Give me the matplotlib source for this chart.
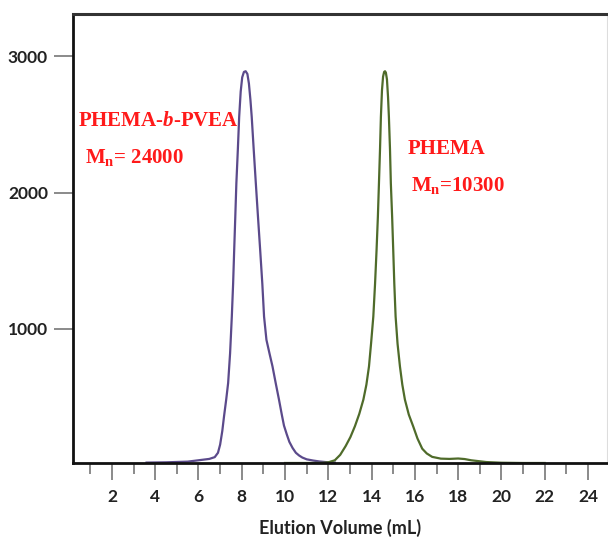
import numpy as np
import matplotlib.pyplot as plt
from matplotlib.ticker import MultipleLocator

# GPC traces (elution volume in mL, detector signal)
vol_block = [3.6, 4.5, 5.5, 6.0, 6.5, 6.75, 6.9, 7.0, 7.1, 7.18, 7.28, 7.37, 7.46,
             7.54, 7.6, 7.65, 7.7, 7.75, 7.82, 7.88, 7.95, 8.02, 8.1, 8.18, 8.26,
             8.33, 8.4, 8.46, 8.55, 8.65, 8.75, 8.85, 8.95, 9.03, 9.14, 9.28,
             9.42, 9.57, 9.72, 9.85, 9.95, 10.08, 10.2, 10.35, 10.5, 10.65, 10.8,
             11.0, 11.3, 11.6, 12.0, 12.3]
sig_block = [18, 20, 25, 35, 45, 58, 90, 150, 250, 357, 480, 602, 820,
             1090, 1330, 1579, 1820, 2067, 2320, 2555, 2740, 2845, 2885, 2890, 2870,
             2800, 2680, 2555, 2320, 2067, 1820, 1579, 1330, 1090, 919, 820,
             724, 600, 480, 370, 290, 225, 170, 125, 90, 70, 55,
             42, 33, 26, 20, 18]

vol_homo = [10.0, 11.0, 11.7, 12.0, 12.3, 12.55, 12.8, 13.02, 13.23, 13.43, 13.62,
            13.76, 13.88, 13.98, 14.08, 14.16, 14.23, 14.29, 14.34, 14.39, 14.43,
            14.48, 14.53, 14.58, 14.62, 14.66, 14.71, 14.76, 14.8, 14.85, 14.89,
            14.95, 15.0, 15.05, 15.11, 15.2, 15.31, 15.42, 15.54, 15.72, 15.92,
            16.12, 16.34, 16.55, 16.8, 17.2, 17.6, 18.0, 18.3, 18.6, 19.3,
            20.0, 21.0, 22.0]
sig_homo = [15, 15, 16, 20, 35, 75, 139, 205, 285, 375, 480,
            590, 724, 900, 1090, 1330, 1579, 1820, 2067, 2320, 2555,
            2750, 2850, 2885, 2890, 2880, 2830, 2700, 2555, 2320, 2067,
            1820, 1579, 1330, 1090, 890, 724, 590, 480, 370, 285,
            195, 120, 85, 60, 47, 45, 48, 44, 35, 22,
            17, 15, 15]

xticks = [2, 4, 6, 8, 10, 12, 14, 16, 18, 20, 22, 24]
yticks = [1000, 2000, 3000]

plt.rcParams['mathtext.fontset'] = 'custom'
plt.rcParams['mathtext.rm'] = 'Liberation Serif:bold'
plt.rcParams['mathtext.it'] = 'Liberation Serif:italic:bold'

fig = plt.figure(figsize=(6.08, 5.48), dpi=100)
ax = fig.add_axes([73/608, 1-463/548, 534/608, 449/548])

ax.plot(vol_block, sig_block, color='#5b4a8b', lw=1.6)
ax.plot(vol_homo, sig_homo, color='#4f6b2a', lw=1.6)

ax.set_xlim(0.2, 24.88)
ax.set_ylim(15, 3310)

ax.set_xticks(xticks)
ax.xaxis.set_minor_locator(MultipleLocator(1))
ax.set_yticks(yticks)
ax.tick_params(axis='x', which='major', direction='out', length=12, width=1.2,
               color='#777777', pad=7, labelsize=12.5, labelcolor='#222222')
ax.tick_params(axis='x', which='minor', direction='out', length=8, width=1.2,
               color='#777777')
ax.tick_params(axis='y', direction='out', length=14, width=1.2, color='#777777',
               pad=4, labelsize=12.5, labelcolor='#222222')
for lab in ax.get_xticklabels() + ax.get_yticklabels():
    lab.set_fontfamily('Lato')
    lab.set_fontweight('bold')

for s in ['left', 'bottom']:
    ax.spines[s].set_linewidth(2)
    ax.spines[s].set_color('#111111')
ax.spines['top'].set_linewidth(2.2)
ax.spines['top'].set_color('#333333')
ax.spines['right'].set_linewidth(0.8)
ax.spines['right'].set_color('#dddddd')

ax.set_xlabel('Elution Volume (mL)', fontfamily='Lato', fontweight='bold',
              fontsize=13, color='#222222', labelpad=10)

# red annotations
red = '#ff1a1a'
tkw = dict(color=red, fontsize=15, fontfamily='Liberation Serif', fontweight='bold',
           va='center', ha='left')
fig.text(78/608, 1-121/548, r'PHEMA-$b$-PVEA', **tkw)
fig.text(85/608, 1-158/548, r'M$_{\mathrm{n}}$= 24000', **tkw)
fig.text(408/608, 1-149/548, 'PHEMA', **tkw)
fig.text(411/608, 1-186/548, r'M$_{\mathrm{n}}$=10300', **tkw)

fig.savefig('out.png', dpi=100)
